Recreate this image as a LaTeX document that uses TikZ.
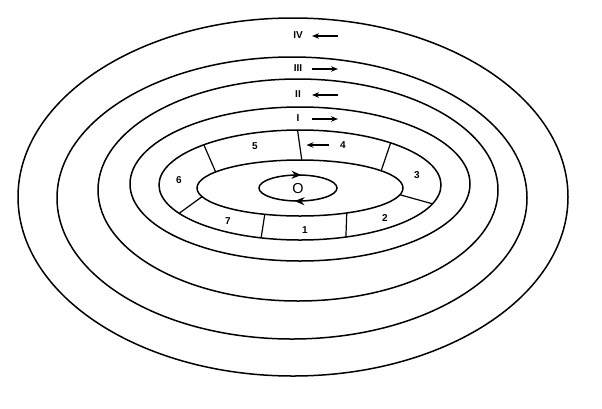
\documentclass[tikz,border=0pt]{standalone}
\usepackage{fontspec}
\setsansfont{Liberation Sans}
\usetikzlibrary{arrows.meta,calc,decorations.markings}

\begin{document}
\begin{tikzpicture}[x=1pt,y=-1pt,line width=1.5pt,
  cut/.style={line width=1.2pt},
  lbl/.style={font=\sffamily\bfseries\fontsize{10}{12}\selectfont,inner sep=0pt},
  dir/.style={-{Stealth[length=7pt,width=5.5pt]},line width=1.6pt},
  spin/.style={decoration={markings,
      mark=at position 0.27 with {\arrow{Stealth[length=10pt,width=8pt]}},
      mark=at position 0.77 with {\arrow{Stealth[length=10pt,width=8pt]}}},
    postaction={decorate}}]
\useasboundingbox (0,0) rectangle (602,408);
% rings, outside in
\foreach \n/\cx/\cy/\rx/\ry in {1/293/197/275/179,2/292/198/235/141,3/298/190/200/111,
    4/300/184/170/77,5/300/185/141/55,6/300/188/103/28}
  {\coordinate (c\n) at (\cx,\cy);
   \draw (c\n) ellipse [x radius=\rx, y radius=\ry];}
% inner orbit round O
\coordinate (c7) at (298,188);
\draw[spin] (c7) ellipse [x radius=39, y radius=13];
\node[font=\sffamily\Large,inner sep=0pt] (o) at (298,189) {O};
% sectors of the ring
\foreach \a/\b in {-133/-145,149/162,106/110,-91/-89,-50/-38,20/14,71/63}
  \draw[cut] ($(c5)+(\a:141 and 55)$) -- ($(c6)+(\b:103 and 28)$);
\foreach \t/\x/\y in {5/255/146,4/343/145,3/417/175,2/385/218,1/305/230,7/228/221,6/179/180}
  \node[lbl] (s\t) at (\x,\y) {\t};
\draw[dir] ($(s4.west)+(-10,0)$) -- ($(s4.west)+(-33,0)$);
% shells I--IV
\foreach \t/\y/\s in {IV/35/-1,III/68/1,II/94/-1,I/118/1}
  {\node[lbl] (r\t) at (298,\y) {\t};
   \draw[dir] ({325-13*\s},\y+1) -- ({325+13*\s},\y+1);}
\end{tikzpicture}
\end{document}
